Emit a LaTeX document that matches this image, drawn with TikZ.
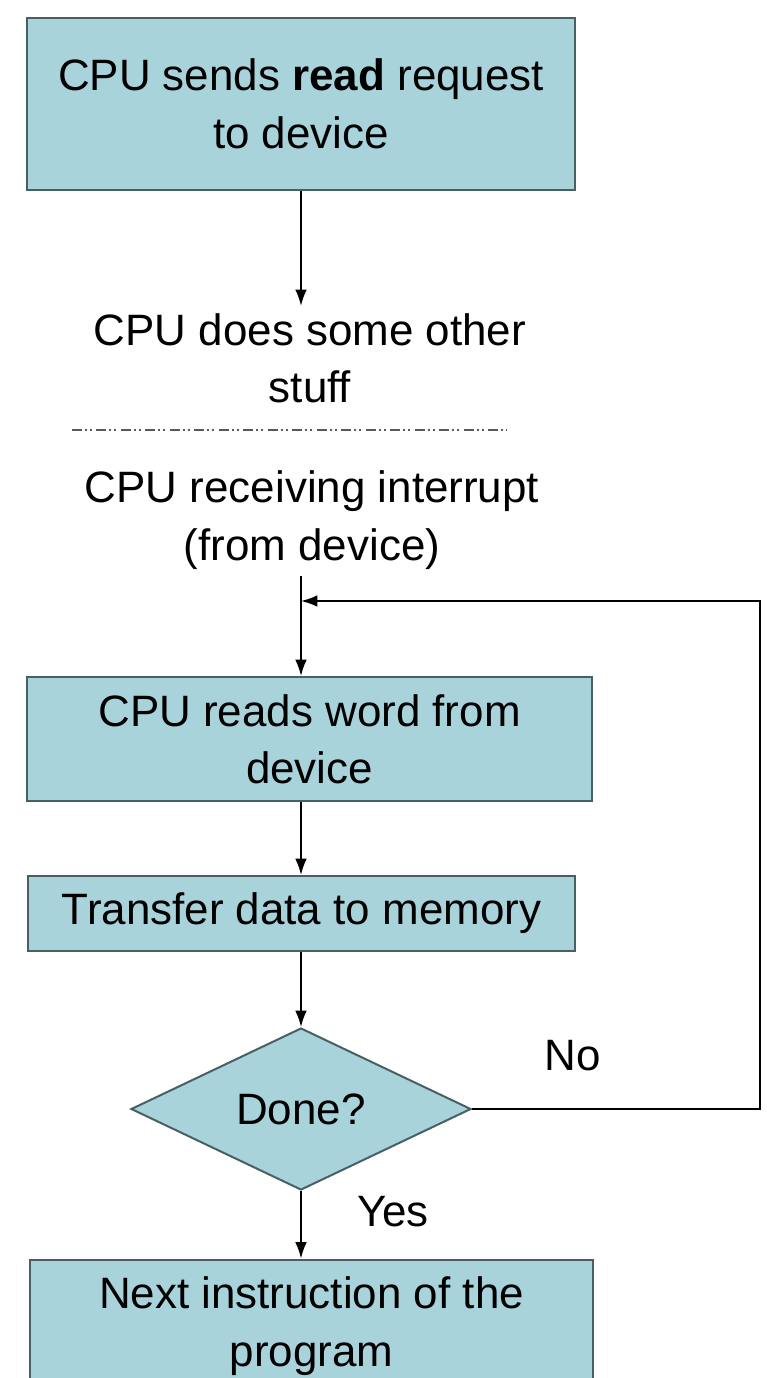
\documentclass[tikz,border=0pt]{standalone}
\usepackage{fontspec}
\setmainfont{Liberation Sans}
\usetikzlibrary{shapes.geometric,arrows.meta,positioning}
\definecolor{boxfill}{RGB}{168,211,219}
\definecolor{boxline}{RGB}{72,96,100}
\tikzset{>={Latex[length=14pt,width=10pt]}, font=\fontsize{37.5}{49}\selectfont}
\tikzstyle{block} = [draw=boxline, fill=boxfill, line width=1.7pt, rectangle, align=center, inner sep=0pt]
\tikzstyle{decision} = [draw=boxline, fill=boxfill, line width=1.7pt, diamond, inner sep=0pt]
\tikzstyle{plain} = [align=center, inner xsep=0pt, inner ysep=6pt]
\tikzstyle{line} = [draw, line width=1.5pt]
\tikzstyle{sep} = [draw=black!65, line width=1.3pt, dash pattern=on 8.5pt off 2.5pt on 1.7pt off 2.5pt on 1.7pt off 4pt]

\begin{document}
\begin{tikzpicture}[x=0.03cm, y=-0.03cm]
    \useasboundingbox (0,0) rectangle (767,1378);
    \clip (0,0) rectangle (767,1378);
    \coordinate (spine) at (301,0);

    \node [block, minimum width=16.44cm, minimum height=5.16cm] (req) at (301,104) {CPU sends \textbf{read} request\\to device};
    \node [plain] (other) at (310,358) {CPU does some other\\stuff};
    \coordinate (sepL) at (72,430);
    \coordinate (sepR) at (507,430);
    \node [plain] (intr) at (312,520) {CPU receiving interrupt\\(from device)};
    \node [block, minimum width=16.95cm, minimum height=3.72cm] (rd) at (309.5,739) {CPU reads word from\\device};
    \node [block, minimum width=16.41cm, minimum height=2.25cm] (xfer) at (301.5,913.5) {Transfer data to memory};
    \node [decision, minimum width=10.2cm, minimum height=4.86cm] (done) at (301,1109) {Done?};
    \node [block, minimum width=16.89cm, minimum height=3.99cm] (next) at (311.5,1326) {Next instruction of the\\program};
    \coordinate (rt) at (760,601);
    \coordinate (loopin) at (301,601);
    \node (no) at (573,1056) {No};
    \node (yes) at (393,1212) {Yes};

    \draw [line,->] (req.south -| spine) -- (other.north -| spine);
    \draw [sep] (sepL) -- (sepR);
    \draw [line,->] (intr.south -| spine) -- (rd.north -| spine);
    \draw [line,->] (rd.south -| spine) -- (xfer.north -| spine);
    \draw [line,->] (xfer.south -| spine) -- (done.north);
    \draw [line,->] (done.south) -- (next.north -| spine);
    \draw [line,->] (done.east) -| (rt) -- (loopin);
\end{tikzpicture}
\end{document}
